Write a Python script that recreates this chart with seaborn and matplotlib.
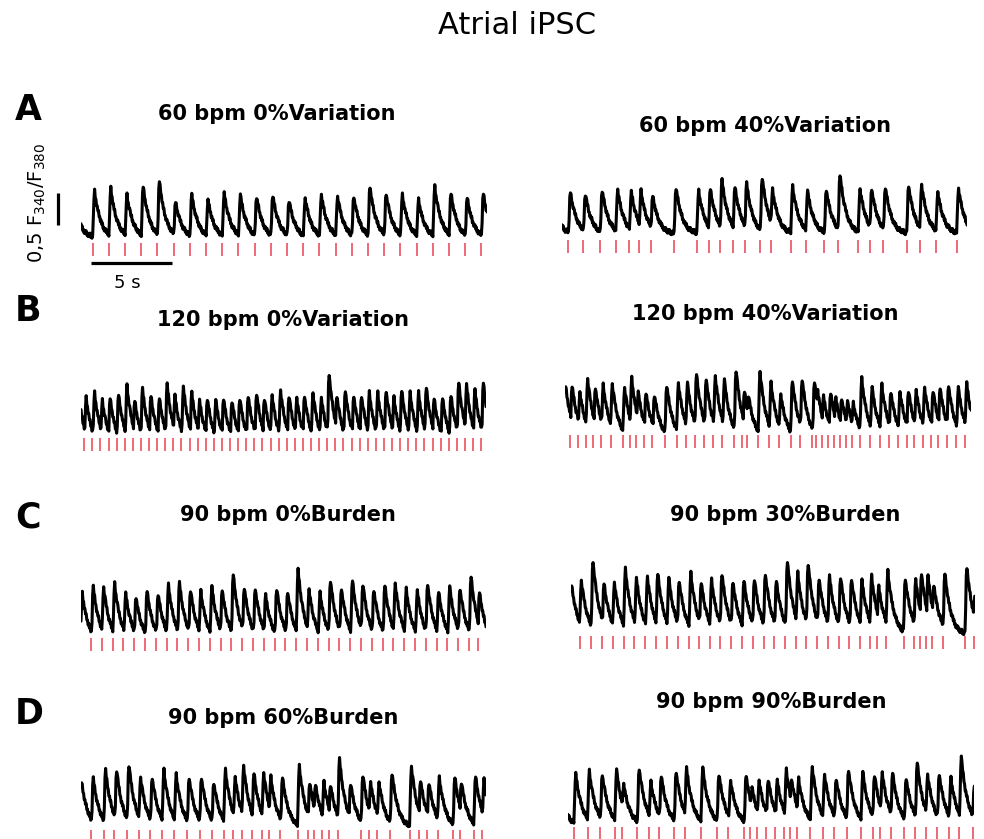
import numpy as np
import matplotlib
matplotlib.use("Agg")
import matplotlib.pyplot as plt
import seaborn as sns

sns.set_style("white")
plt.rcParams['font.family'] = ['DejaVu Sans']
plt.rcParams['mathtext.default'] = 'regular'
plt.rcParams['text.color'] = 'black'
plt.rcParams['path.simplify'] = False

W, H = 984, 839
PX_PER_S = 16.2      # 5 s scale bar = 81 px
PX_PER_UNIT = 64.0   # 0,5 F340/F380 bar = 32 px
DT = 0.04

# one beat (fraction of peak), sampled every 0.04 s after the stimulus
beat_shape = [0.02, 0.40, 0.85, 1.00, 0.90, 0.82, 0.74, 0.67, 0.60, 0.54, 0.49, 0.44,
              0.40, 0.36, 0.32, 0.29, 0.26, 0.23, 0.21, 0.19, 0.17, 0.15, 0.135, 0.12,
              0.11, 0.10, 0.09, 0.085, 0.08, 0.075, 0.07, 0.065, 0.06, 0.055, 0.05, 0.045,
              0.04, 0.035, 0.03, 0.025, 0.02]
# recording noise riding on the trace (ratio units)
noise = [0.03, -0.015, 0.035, -0.025, 0.01, -0.035, 0.02, -0.01, 0.04, -0.02, 0.015,
         -0.03, 0.025, -0.015, 0.035, -0.03, 0.005, -0.035, 0.02]

# ---- A: 60 bpm ----------------------------------------------------------------
a0_beats = [-0.6, 0.72, 1.72, 2.72, 3.72, 4.72, 5.72, 6.72, 7.72, 8.72, 9.72, 10.72, 11.72,
            12.72, 13.72, 14.72, 15.72, 16.72, 17.72, 18.72, 19.72, 20.72, 21.72, 22.72,
            23.72, 24.72]
a0_peaks = [0.70, 0.74, 0.78, 0.68, 0.82, 0.90, 0.58, 0.68, 0.60, 0.71, 0.68, 0.66, 0.68,
            0.60, 0.63, 0.68, 0.66, 0.66, 0.81, 0.71, 0.68, 0.60, 0.81, 0.71, 0.64, 0.71]
a40_beats = [-0.7, 0.39, 1.31, 2.35, 3.33, 4.15, 4.75, 5.49, 6.91, 8.33, 9.06, 9.75, 10.54,
             11.30, 12.22, 12.88, 14.12, 15.04, 16.19, 17.02, 18.29, 19.01, 19.83, 21.28,
             22.10, 23.07, 24.36]
a40_peaks = [0.60, 0.67, 0.64, 0.70, 0.70, 0.67, 0.68, 0.61, 0.74, 0.68, 0.72, 0.85, 0.75,
             0.80, 0.90, 0.70, 0.75, 0.68, 0.70, 0.95, 0.71, 0.72, 0.75, 0.77, 0.78, 0.66,
             0.72]

# ---- B: 120 bpm ---------------------------------------------------------------
b0_beats = [-0.25, 0.2, 0.7, 1.2, 1.7, 2.2, 2.7, 3.2, 3.7, 4.2, 4.7, 5.2, 5.7, 6.2, 6.7, 7.2,
            7.7, 8.2, 8.7, 9.2, 9.7, 10.2, 10.7, 11.2, 11.7, 12.2, 12.7, 13.2, 13.7, 14.2,
            14.7, 15.2, 15.7, 16.2, 16.7, 17.2, 17.7, 18.2, 18.7, 19.2, 19.7, 20.2, 20.7,
            21.2, 21.7, 22.2, 22.7, 23.2, 23.7, 24.2, 24.7]
b0_peaks = [0.80, 0.80, 0.88, 0.76, 0.80, 0.86, 0.99, 0.76, 0.94, 0.84, 0.80, 1.01, 0.84,
            0.97, 0.88, 0.76, 0.80, 0.76, 0.80, 0.76, 0.80, 0.84, 0.88, 0.80, 0.84, 0.92,
            0.84, 0.80, 0.84, 0.88, 0.80, 1.18, 0.84, 0.92, 0.84, 0.84, 0.88, 0.88, 0.92,
            0.80, 0.92, 0.88, 0.88, 0.97, 0.80, 0.80, 0.84, 1.05, 1.01, 0.92, 1.05]
b40_beats = [-0.1, 0.31, 0.82, 1.30, 1.75, 2.22, 2.82, 3.56, 4.01, 4.38, 4.90, 5.39, 6.17,
             6.89, 7.45, 8.02, 8.60, 9.16, 9.71, 10.45, 10.95, 11.21, 11.93, 12.59, 13.21,
             13.93, 14.51, 15.27, 15.47, 15.84, 16.26, 16.60, 16.98, 17.33, 17.70, 18.21,
             18.83, 19.44, 20.00, 20.58, 21.09, 21.56, 22.08, 22.59, 23.04, 23.56, 24.14,
             24.69]
b40_peaks = [0.85, 0.86, 0.75, 0.96, 0.82, 0.86, 0.88, 0.82, 0.96, 0.75, 0.75, 0.71, 0.86,
             0.89, 0.89, 1.04, 0.96, 1.00, 0.94, 1.10, 0.78, 0.71, 1.07, 0.89, 0.71, 0.93,
             0.96, 0.93, 0.78, 0.68, 0.75, 0.65, 0.65, 0.60, 0.57, 0.96, 0.82, 0.86, 0.75,
             0.75, 0.78, 0.78, 0.82, 0.78, 0.82, 0.86, 0.82, 0.89]

# ---- C: 90 bpm burden -----------------------------------------------------------
c0_beats = [-0.04, 0.62, 1.29, 1.95, 2.62, 3.29, 3.95, 4.62, 5.29, 5.95, 6.62, 7.29, 7.95,
            8.62, 9.29, 9.95, 10.62, 11.29, 11.95, 12.62, 13.29, 13.95, 14.62, 15.29, 15.95,
            16.62, 17.29, 17.95, 18.62, 19.29, 19.95, 20.62, 21.29, 21.95, 22.62, 23.29,
            23.95, 24.48]
c0_peaks = [0.77, 0.87, 0.87, 0.92, 0.77, 0.71, 0.81, 0.77, 0.90, 0.93, 0.83, 0.80, 0.87,
            0.83, 1.07, 0.87, 0.85, 0.74, 0.85, 0.80, 1.14, 0.83, 0.77, 0.98, 0.85, 0.98,
            0.92, 0.83, 0.90, 0.92, 0.83, 0.81, 0.92, 0.80, 0.87, 0.85, 1.04, 0.79]
c30_beats = [-0.06, 0.53, 1.23, 1.91, 2.57, 3.25, 3.91, 4.59, 5.25, 5.92, 6.58, 7.26, 7.92,
             8.56, 9.22, 9.87, 10.55, 11.21, 11.89, 12.55, 13.23, 13.89, 14.52, 15.18, 15.86,
             16.52, 17.18, 17.86, 18.43, 18.89, 19.46, 20.53, 21.15, 21.52, 21.91, 22.28,
             22.96, 24.34, 24.85]
c30_peaks = [0.80, 0.87, 1.18, 0.83, 0.83, 1.04, 0.90, 0.93, 0.98, 0.90, 0.87, 0.98, 0.85,
             0.87, 0.98, 0.85, 0.87, 0.90, 0.98, 0.87, 1.18, 0.98, 1.14, 0.90, 0.93, 0.93,
             0.90, 0.87, 0.93, 0.77, 1.01, 0.90, 0.87, 0.98, 0.93, 0.80, 0.98, 1.08, 0.77]

# ---- D: 90 bpm burden -----------------------------------------------------------
d60_beats = [-0.06, 0.62, 1.40, 2.06, 2.84, 3.56, 4.28, 5.00, 5.76, 6.54, 7.32, 8.08, 8.80,
             9.38, 9.94, 10.55, 11.17, 11.58, 12.30, 13.37, 13.99, 14.36, 14.87, 15.29,
             15.86, 17.30, 17.76, 18.27, 19.09, 20.29, 20.84, 21.36, 22.01, 22.96, 23.37,
             24.24, 24.75]
d60_peaks = [0.74, 0.79, 0.92, 0.93, 1.01, 0.81, 0.81, 0.92, 0.85, 0.81, 0.81, 0.73, 0.92,
             0.81, 0.99, 0.88, 0.88, 0.81, 0.81, 0.98, 0.73, 0.70, 0.73, 0.70, 1.09, 0.85,
             0.73, 0.73, 0.88, 0.98, 0.77, 0.73, 0.80, 0.81, 0.74, 0.83, 0.77]
# spontaneous beat without a stimulus mark
d60_extra_beats = [16.52]
d60_extra_peaks = [0.72]
d90_beats = [-0.7, 0.37, 1.21, 1.98, 2.90, 3.31, 4.28, 5.02, 5.64, 6.54, 7.22, 8.21, 9.18,
             9.90, 10.88, 11.23, 11.69, 12.22, 12.78, 13.35, 13.70, 14.12, 14.94, 15.72,
             16.44, 17.20, 18.09, 18.81, 19.26, 19.92, 20.76, 21.42, 22.10, 22.80, 23.54,
             24.16, 24.98]
d90_peaks = [0.70, 0.81, 0.85, 0.81, 0.87, 0.65, 0.90, 0.68, 0.79, 0.85, 0.90, 0.90, 0.81,
             0.70, 0.79, 0.59, 0.70, 0.73, 0.70, 0.87, 0.74, 0.73, 0.92, 0.80, 0.74, 0.88,
             0.83, 0.80, 0.83, 0.83, 0.74, 0.99, 0.80, 0.81, 0.74, 1.07, 0.59]

titles = ["60 bpm 0%Variation", "60 bpm 40%Variation",
          "120 bpm 0%Variation", "120 bpm 40%Variation",
          "90 bpm 0%Burden", "90 bpm 30%Burden",
          "90 bpm 60%Burden", "90 bpm 90%Burden"]
letters = ["A", "B", "C", "D"]

# layout in pixels: trace left, trace right, lowest trough, title centre x / y
layout = [
    (81, 487, 236, 277, 114), (562, 967, 233, 765, 126),
    (81, 486, 431, 283, 320), (565, 971, 428, 765, 314),
    (81, 486, 631, 288, 515), (571, 975, 629, 785, 515),
    (81, 486, 823, 283, 718), (568, 974, 820, 771, 702),
]
series = [(a0_beats, a0_peaks, [], []), (a40_beats, a40_peaks, [], []),
          (b0_beats, b0_peaks, [], []), (b40_beats, b40_peaks, [], []),
          (c0_beats, c0_peaks, [], []), (c30_beats, c30_peaks, [], []),
          (d60_beats, d60_peaks, d60_extra_beats, d60_extra_peaks),
          (d90_beats, d90_peaks, [], [])]
letter_pos = [(28, 110), (28, 311), (28, 517), (29, 714)]


def build_trace(beats, peaks, dur):
    n = int(round(dur / DT)) + 1
    y = np.zeros(n)
    for tb, a in zip(beats, peaks):
        i0 = int(round(tb / DT))
        for j, v in enumerate(beat_shape):
            k = i0 + j
            if 0 <= k < n:
                y[k] = max(y[k], a * v)
    y = y + np.resize(noise, n)
    return np.arange(n) * DT, y


fig = plt.figure(figsize=(W / 100, H / 100), dpi=100)

for idx, ((beats, peaks, xb, xp), (xl, xr, low, tx, ty)) in enumerate(zip(series, layout)):
    dur = (xr - xl) / PX_PER_S
    t, y = build_trace(list(beats) + xb, list(peaks) + xp, dur)
    lvl = np.percentile(y, 2)
    y_lo, y_hi = lvl - 0.5, lvl + 1.3
    top_px = low - 1.3 * PX_PER_UNIT
    h_px = (y_hi - y_lo) * PX_PER_UNIT
    ax = fig.add_axes([xl / W, 1 - (top_px + h_px) / H, (xr - xl) / W, h_px / H])
    sns.lineplot(x=t, y=y, ax=ax, color="black", lw=2.2, estimator=None, sort=False)
    ax.vlines(beats, lvl - 0.31, lvl - 0.11, color="#e8434f", lw=1.1)
    ax.set_xlim(0, dur)
    ax.set_ylim(y_lo, y_hi)
    ax.axis("off")

    fig.text(tx / W, 1 - ty / H, titles[idx], fontsize=15, fontweight="bold",
             ha="center", va="center")

    if idx == 0:
        # scale bars
        ax.plot([-1.42, -1.42], [lvl + 0.17, lvl + 0.67], color="black", lw=2.3,
                clip_on=False, solid_capstyle="butt")
        ax.plot([0.62, 5.62], [lvl - 0.42, lvl - 0.42], color="black", lw=2.3,
                clip_on=False, solid_capstyle="butt")
        ax.text(2.84, lvl - 0.74, "5 s", fontsize=13, ha="center", va="center")

for letter, (lx, ly) in zip(letters, letter_pos):
    fig.text(lx / W, 1 - ly / H, letter, fontsize=25, fontweight="bold",
             ha="center", va="center")

fig.text(37 / W, 1 - 203 / H, r"0,5 F$_{340}$/F$_{380}$", fontsize=14, rotation=90,
         ha="center", va="center")
fig.text(517 / W, 1 - 25 / H, "Atrial iPSC", fontsize=22, ha="center", va="center")

fig.savefig("out.png", dpi=100)
